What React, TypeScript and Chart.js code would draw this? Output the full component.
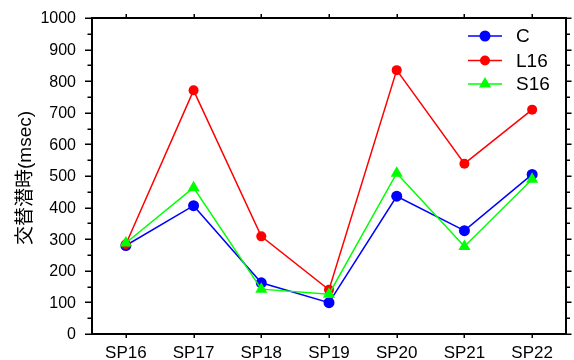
import React, { useEffect, useRef } from 'react';
import { Chart, registerables } from 'chart.js';

Chart.register(...registerables);

const categories = ['SP16', 'SP17', 'SP18', 'SP19', 'SP20', 'SP21', 'SP22'];
const seriesC = [280, 406, 162, 99, 436, 327, 505];
const seriesL16 = [284, 771, 309, 140, 835, 539, 710];
const seriesS16 = [288, 463, 142, 126, 509, 277, 490];
const seriesNames = ['C', 'L16', 'S16'];
const yMin = 0;
const yMax = 1000;
const yStep = 100;
const yTitle = '交替潜時(msec)';

const FONT = '"Liberation Sans", Arial, sans-serif';
const CJK = '"Liberation Sans", "Noto Sans CJK JP", sans-serif';

const colors = ['#0000ff', '#ff0000', '#00ff00'];
const styles = ['circle', 'circle', 'triangle'];
const radii = [5.5, 5, 7];

function drawMarker(ctx: CanvasRenderingContext2D, style: string, x: number, y: number, r: number, color: string) {
  ctx.fillStyle = color;
  ctx.beginPath();
  if (style === 'triangle') {
    for (let i = 0; i < 3; i++) {
      const a = (i * 2 * Math.PI) / 3;
      const px = x + Math.sin(a) * r;
      const py = y - Math.cos(a) * r;
      if (i === 0) ctx.moveTo(px, py);
      else ctx.lineTo(px, py);
    }
    ctx.closePath();
  } else {
    ctx.arc(x, y, r, 0, Math.PI * 2);
  }
  ctx.fill();
}

const framePlugin = {
  id: 'framePlugin',
  beforeDatasetsDraw(chart: any) {
    const { ctx, chartArea: ca, scales } = chart;
    const ys = scales.y;
    const xs = scales.x;
    ctx.save();
    ctx.strokeStyle = '#000';
    ctx.lineWidth = 2;
    ctx.strokeRect(ca.left, ca.top, ca.right - ca.left, ca.bottom - ca.top);
    ctx.lineWidth = 1.5;
    ctx.beginPath();
    for (let v = yMin; v <= yMax; v += yStep / 2) {
      const y = Math.round(ys.getPixelForValue(v)) + 0.25;
      const major = v % yStep === 0;
      const l = major ? 6 : 3.5;
      ctx.moveTo(ca.left - 1 - l, y);
      ctx.lineTo(ca.left - 1, y);
      ctx.moveTo(ca.right + 1, y);
      ctx.lineTo(ca.right + 1 + (major ? 4.5 : 3), y);
    }
    for (let i = 0; i < categories.length; i++) {
      const x = Math.round(xs.getPixelForValue(i)) + 0.25;
      ctx.moveTo(x, ca.top - 1);
      ctx.lineTo(x, ca.top - 4);
      ctx.moveTo(x, ca.bottom + 1);
      ctx.lineTo(x, ca.bottom + 4);
    }
    ctx.stroke();

    // tick labels, taken from the library's scales
    ctx.fillStyle = '#000';
    ctx.font = '16px ' + FONT;
    ctx.textAlign = 'right';
    ctx.textBaseline = 'middle';
    ys.ticks.forEach((t: any, i: number) => {
      ctx.fillText(String(t.value), ca.left - 16, ys.getPixelForTick(i) + 1);
    });
    ctx.font = '17px ' + FONT;
    ctx.textAlign = 'center';
    ctx.textBaseline = 'alphabetic';
    xs.ticks.forEach((t: any, i: number) => {
      ctx.fillText(String(xs.getLabelForValue(t.value)), xs.getPixelForTick(i), 358);
    });
    ctx.restore();
  },
  afterDraw(chart: any) {
    const { ctx, chartArea: ca } = chart;
    ctx.save();
    // y-axis title
    ctx.translate(26, (ca.top + ca.bottom) / 2 + 2);
    ctx.rotate(-Math.PI / 2);
    ctx.fillStyle = '#000';
    ctx.font = '19px ' + CJK;
    ctx.textAlign = 'center';
    ctx.textBaseline = 'middle';
    ctx.fillText(yTitle, 0, 0);
    ctx.restore();

    // legend
    ctx.save();
    const rows = [36, 60.5, 84];
    for (let i = 0; i < seriesNames.length; i++) {
      const y = rows[i];
      ctx.strokeStyle = colors[i];
      ctx.lineWidth = 1.5;
      ctx.beginPath();
      ctx.moveTo(468, y);
      ctx.lineTo(502, y);
      ctx.stroke();
      drawMarker(ctx, styles[i], 485, y, radii[i], colors[i]);
      ctx.fillStyle = '#000';
      ctx.font = '19px ' + FONT;
      ctx.textAlign = 'left';
      ctx.textBaseline = 'middle';
      ctx.fillText(seriesNames[i], 516, y + 1);
    }
    ctx.restore();
  },
};

export default function App() {
  const ref = useRef<HTMLCanvasElement | null>(null);
  useEffect(() => {
    document.body.style.margin = '0';
    const canvas = ref.current;
    if (!canvas) return;
    const allData = [seriesC, seriesL16, seriesS16];
    const chart = new Chart(canvas, {
      type: 'line',
      data: {
        labels: categories,
        datasets: allData.map((d, i) => ({
          label: seriesNames[i],
          data: d,
          borderColor: colors[i],
          backgroundColor: colors[i],
          pointBackgroundColor: colors[i],
          pointBorderColor: colors[i],
          pointStyle: styles[i] as any,
          pointRadius: radii[i],
          pointBorderWidth: 0,
          borderWidth: 1.5,
          tension: 0,
          order: 3 - i,
          clip: false as any,
        })),
      },
      options: {
        responsive: false,
        animation: false,
        devicePixelRatio: 1,
        layout: { padding: { left: 0, right: 8, top: 18, bottom: 0 } },
        plugins: {
          legend: { display: false },
          tooltip: { enabled: false },
          title: { display: false },
        },
        scales: {
          x: {
            type: 'category',
            offset: true,
            grid: { display: false },
            border: { display: false },
            ticks: { display: false },
            afterFit: (s: any) => { s.height = 26; },
          },
          y: {
            type: 'linear',
            min: yMin,
            max: yMax,
            grid: { display: false },
            border: { display: false },
            ticks: { display: false, stepSize: yStep },
            afterFit: (s: any) => { s.width = 92; },
          },
        },
      },
      plugins: [framePlugin],
    });
    return () => chart.destroy();
  }, []);
  return (
    <div style={{ width: 574, height: 360 }}>
      <canvas ref={ref} width={574} height={360} style={{ display: 'block', width: 574, height: 360 }} />
    </div>
  );
}
